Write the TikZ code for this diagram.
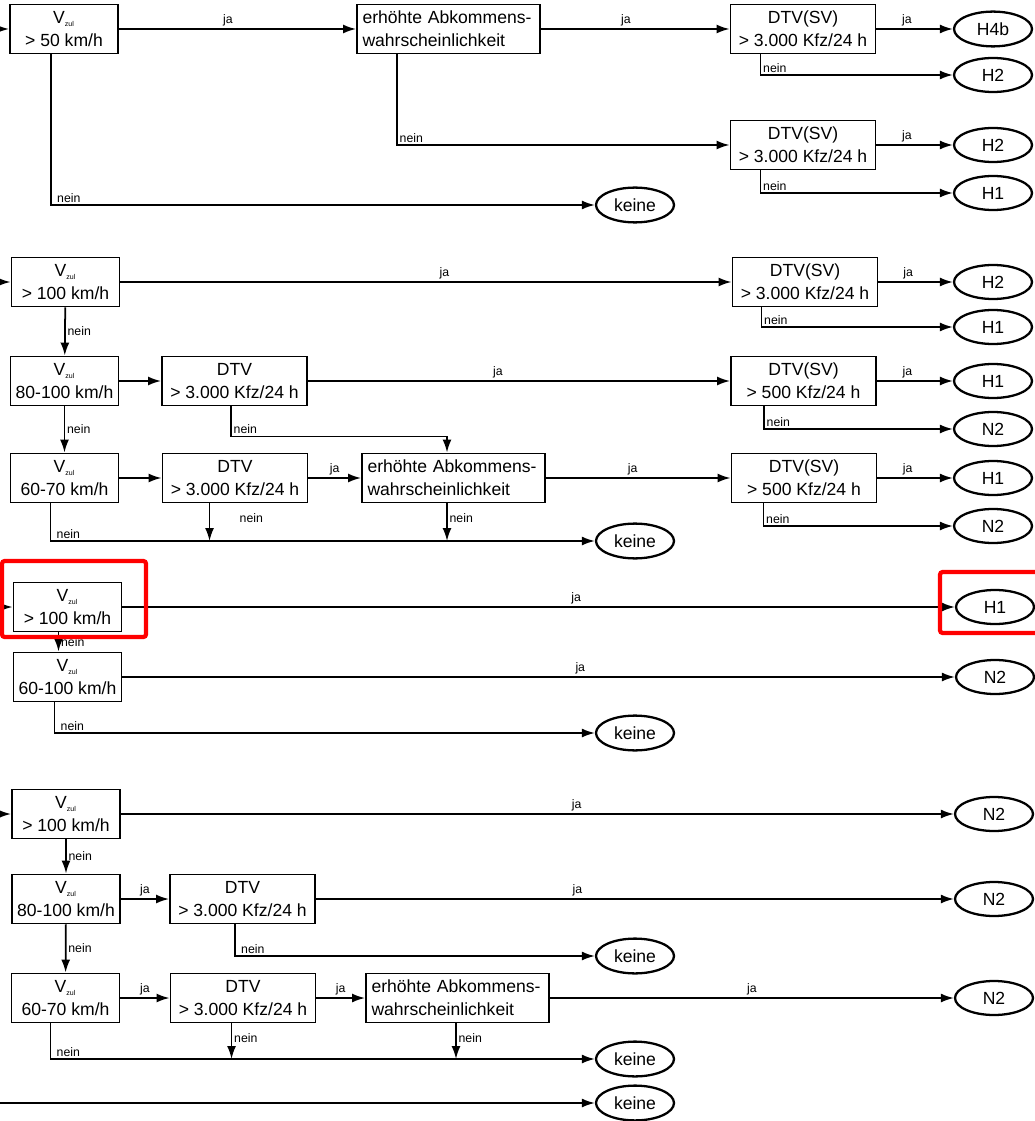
\documentclass[tikz,border=0pt]{standalone}
\usepackage{fontspec}
\setmainfont{Liberation Sans}
\usepackage{tikz}
\usetikzlibrary{arrows.meta, positioning, shapes.geometric}
\tikzset{
  %% ---- boxes ----
  vbox/.style   = {rectangle, draw, line width=1.1pt,
                   minimum width=2.16cm, minimum height=0.98cm,
                   align=center, inner sep=1pt,
                   font=\fontsize{10}{13}\selectfont},
  dtvbox/.style = {vbox, minimum width=2.9cm},
  abkbox/.style = {vbox, text width=3.44cm, align=left, inner xsep=0.11cm},
  result/.style = {ellipse, draw, line width=1.3pt,
                   minimum width=1.56cm, minimum height=0.68cm,
                   font=\fontsize{10}{12}\selectfont},
  %% ---- arrows ----
  arr/.style    = {-{Latex[length=2.6mm,width=1.8mm]}, line width=1pt},
  lbl/.style    = {font=\fontsize{7}{8}\selectfont, inner sep=1pt},
  hilite/.style = {draw=red, line width=2.4pt, rounded corners=1.5pt},
}
\newcommand{\vzul}{V\textsubscript{\fontsize{4}{4}\selectfont zul}}

\begin{document}
\begin{tikzpicture}[x=0.02cm, y=-0.02cm]
\useasboundingbox (0,0) rectangle (1034,1121);
\coordinate (o) at (0,0);

%% ---- block 1 ----
\node[vbox]   (a1)  at (64,29)    {\vzul\\> 50 km/h};
\node[abkbox] (b1)  at (448.5,29) {erhöhte Abkommens-\\wahrscheinlichkeit};
\node[dtvbox] (c1)  at (803,29)   {DTV(SV)\\> 3.000 Kfz/24 h};
\node[dtvbox] (c1b) at (803,145)  {DTV(SV)\\> 3.000 Kfz/24 h};
\node[result] (r1a) at (993,29)   {H4b};
\node[result] (r1b) at (993,75)   {H2};
\node[result] (r1c) at (993,145)  {H2};
\node[result] (r1d) at (993,193)  {H1};
\node[result] (k1)  at (635,205)  {keine};

\draw[arr] (a1.west -| o) -- (a1);
\draw[arr] (a1) -- node[lbl, above, pos=0.46]{ja} (b1);
\draw[arr] (b1) -- node[lbl, above, pos=0.45]{ja} (c1);
\draw[arr] (c1) -- node[lbl, above, pos=0.4]{ja} (r1a);
\draw[arr] ([xshift=0.62cm]c1.south west) |- node[lbl, pos=0.5, anchor=south west]{nein} (r1b);
\draw[arr] ([xshift=0.82cm]b1.south west) |- node[lbl, pos=0.5, anchor=south west]{nein} (c1b);
\draw[arr] (c1b) -- node[lbl, above, pos=0.4]{ja} (r1c);
\draw[arr] ([xshift=0.62cm]c1b.south west) |- node[lbl, pos=0.5, anchor=south west]{nein} (r1d);
\draw[arr] ([xshift=0.84cm]a1.south west) |- node[lbl, pos=0.5, anchor=south west, xshift=2pt]{nein} (k1);

%% ---- block 2 ----
\node[vbox]   (a2)  at (65.5,282)  {\vzul\\> 100 km/h};
\node[dtvbox] (c2)  at (805,282)   {DTV(SV)\\> 3.000 Kfz/24 h};
\node[result] (r2a) at (993,282)   {H2};
\node[result] (r2b) at (993,327)   {H1};
\node[vbox]   (a3)  at (64.5,381)  {\vzul\\80-100 km/h};
\node[dtvbox] (d3)  at (234.5,381) {DTV\\> 3.000 Kfz/24 h};
\node[dtvbox] (c3)  at (803.5,381) {DTV(SV)\\> 500 Kfz/24 h};
\node[result] (r3a) at (993,381)   {H1};
\node[result] (r3b) at (993,429)   {N2};
\node[vbox]   (a4)  at (64.5,478)  {\vzul\\60-70 km/h};
\node[dtvbox] (d4)  at (235,478)   {DTV\\> 3.000 Kfz/24 h};
\node[abkbox] (e4)  at (453.5,478) {erhöhte Abkommens-\\wahrscheinlichkeit};
\node[dtvbox] (c4)  at (804,478)   {DTV(SV)\\> 500 Kfz/24 h};
\node[result] (r4a) at (993,478)   {H1};
\node[result] (r4b) at (993,526)   {N2};
\node[result] (k2)  at (635,541)   {keine};
\coordinate (d3n)  at ([xshift=1.4cm]d3.south west);
\coordinate (e4in) at ([xshift=-0.13cm]e4.north);
\coordinate (a4n)  at ([xshift=0.82cm]a4.south west);
\coordinate (d4n)  at ([xshift=0.96cm]d4.south west);
\coordinate (e4n)  at ([xshift=-0.13cm]e4.south);

\draw[arr] (a2.west -| o) -- (a2);
\draw[arr] (a2) -- node[lbl, above, pos=0.53]{ja} (c2);
\draw[arr] (c2) -- node[lbl, above, pos=0.4]{ja} (r2a);
\draw[arr] ([xshift=0.6cm]c2.south west) |- node[lbl, pos=0.5, anchor=south west]{nein} (r2b);
\draw[arr] (a2) -- node[lbl, right]{nein} (a3);
\draw[arr] (a3) -- (d3);
\draw[arr] (d3) -- node[lbl, above, pos=0.45]{ja} (c3);
\draw[arr] (c3) -- node[lbl, above, pos=0.4]{ja} (r3a);
\draw[arr] ([xshift=0.68cm]c3.south west) |- node[lbl, pos=0.5, anchor=south west]{nein} (r3b);
\draw[arr] (d3n) -- ++(0,30) node[lbl, anchor=south west]{nein} -| (e4in);
\draw[arr] (a3) -- node[lbl, right]{nein} (a4);
\draw[arr] (a4) -- (d4);
\draw[arr] (d4) -- node[lbl, above]{ja} (e4);
\draw[arr] (e4) -- node[lbl, above, pos=0.47]{ja} (c4);
\draw[arr] (c4) -- node[lbl, above, pos=0.4]{ja} (r4a);
\draw[arr] ([xshift=0.66cm]c4.south west) |- node[lbl, pos=0.5, anchor=south west]{nein} (r4b);
\draw[arr] (a4n) |- node[lbl, pos=0.5, anchor=south west, xshift=2pt]{nein} (k2);
\draw[arr] (d4n) -- node[lbl, pos=0.4, right=0.55cm]{nein} (d4n |- k2);
\draw[arr] (e4n) -- node[lbl, pos=0.4, right]{nein} (e4n |- k2);

%% ---- block 3 ----
\node[vbox]   (a5) at (67.5,607) {\vzul\\> 100 km/h};
\node[result] (r5) at (995,607)  {H1};
\node[vbox]   (a6) at (67.5,677) {\vzul\\60-100 km/h};
\node[result] (r6) at (995,677)  {N2};
\node[result] (k3) at (635,733)  {keine};

\draw[arr] (a5.west -| o) -- (a5);
\draw[arr] (a5) -- node[lbl, above, pos=0.545]{ja} (r5);
\draw[arr] ([xshift=-0.18cm]a5.south) -- node[lbl, right]{nein} ([xshift=-0.18cm]a6.north);
\draw[arr] (a6) -- node[lbl, above, pos=0.55]{ja} (r6);
\draw[arr] ([xshift=0.84cm]a6.south west) |- node[lbl, pos=0.5, anchor=south west, xshift=2pt]{nein} (k3);

%% ---- block 4 ----
\node[vbox]   (a7) at (66,814)     {\vzul\\> 100 km/h};
\node[result] (r7) at (994,814)    {N2};
\node[vbox]   (a8) at (66,899)     {\vzul\\80-100 km/h};
\node[dtvbox] (d8) at (242.5,899)  {DTV\\> 3.000 Kfz/24 h};
\node[result] (r8) at (994,899)    {N2};
\node[result] (k4) at (635,956)    {keine};
\node[vbox]   (a9) at (65.5,998)   {\vzul\\60-70 km/h};
\node[dtvbox] (d9) at (243,998)    {DTV\\> 3.000 Kfz/24 h};
\node[abkbox] (e9) at (457.5,998)  {erhöhte Abkommens-\\wahrscheinlichkeit};
\node[result] (r9) at (994,998)    {N2};
\node[result] (k5) at (635,1059)   {keine};
\node[result] (k6) at (635,1103)   {keine};
\coordinate (a9n) at ([xshift=0.8cm]a9.south west);
\coordinate (d9n) at ([xshift=1.24cm]d9.south west);
\coordinate (e9n) at ([xshift=-0.03cm]e9.south);

\draw[arr] (a7.west -| o) -- (a7);
\draw[arr] (a7) -- node[lbl, above, pos=0.547]{ja} (r7);
\draw[arr] (a7) -- node[lbl, right]{nein} (a8);
\draw[arr] (a8) -- node[lbl, above]{ja} (d8);
\draw[arr] (d8) -- node[lbl, above, pos=0.41]{ja} (r8);
\draw[arr] ([xshift=1.32cm]d8.south west) |- node[lbl, pos=0.5, anchor=south west, xshift=2pt]{nein} (k4);
\draw[arr] (a8) -- node[lbl, right]{nein} (a9);
\draw[arr] (a9) -- node[lbl, above]{ja} (d9);
\draw[arr] (d9) -- node[lbl, above]{ja} (e9);
\draw[arr] (e9) -- node[lbl, above, pos=0.5]{ja} (r9);
\draw[arr] (a9n) |- node[lbl, pos=0.5, anchor=south west, xshift=2pt]{nein} (k5);
\draw[arr] (d9n) -- node[lbl, pos=0.4, right]{nein} (d9n |- k5);
\draw[arr] (e9n) -- node[lbl, pos=0.4, right]{nein} (e9n |- k5);
\draw[arr] (k6 -| o) -- (k6);

%% ---- highlights ----
\draw[hilite] (2,561) rectangle (146,637);
\draw[hilite] (940,572) rectangle (1040,633);
\end{tikzpicture}
\end{document}
